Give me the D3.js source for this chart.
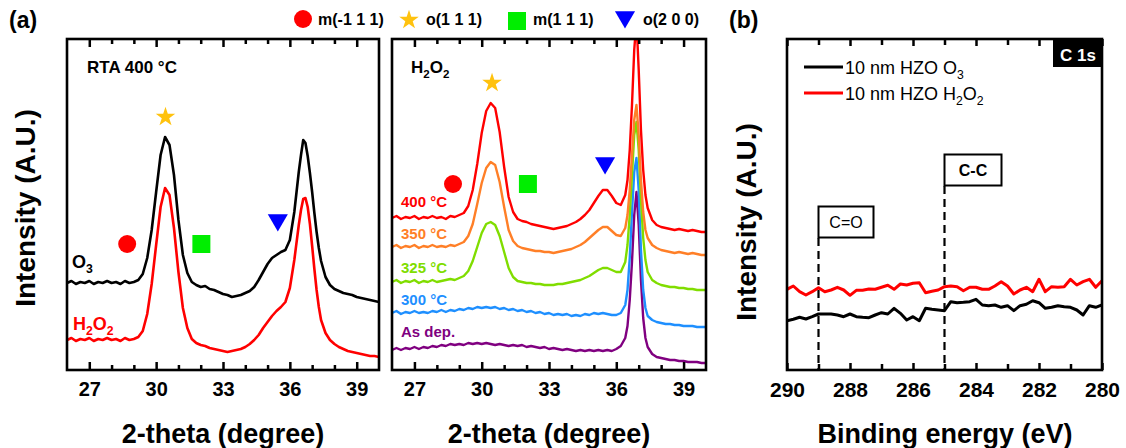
<html>
<head>
<meta charset="UTF-8">
<script src="https://d3js.org/d3.v7.min.js"></script>
<title>XRD and XPS of HZO films</title>
<style>
  body { margin: 0; background: #fff; }
  text { font-family: "Liberation Sans", Arial, sans-serif; }
</style>
</head>
<body>
<svg id="chart" width="1126" height="448"></svg>
<script>
// ---- data ----
// 2-theta grid (degree), denser around the sharp substrate peak
const theta = [26.0, 26.2, 26.4, 26.6, 26.8, 27.0, 27.2, 27.4, 27.6, 27.8,
  28.0, 28.2, 28.4, 28.6, 28.8, 29.0, 29.2, 29.4, 29.6, 29.8,
  30.0, 30.2, 30.4, 30.6, 30.8, 31.0, 31.2, 31.4, 31.6, 31.8,
  32.0, 32.2, 32.4, 32.6, 32.8, 33.0, 33.2, 33.4, 33.6, 33.8,
  34.0, 34.2, 34.4, 34.6, 34.8, 35.0, 35.2, 35.4, 35.6, 35.8,
  36.0, 36.2, 36.4,
  36.5, 36.6, 36.7, 36.8, 36.9, 37.0, 37.1, 37.2, 37.3, 37.4,
  37.6, 37.8, 38.0, 38.2, 38.4, 38.6, 38.8, 39.0, 39.2, 39.4, 39.6, 39.8, 40.0];

// (a) left: RTA 400 °C, O3 vs H2O2 (offset intensity, a.u.)
const rtaO3 = [87, 89, 86, 88, 87, 89, 86, 88, 87, 89,
  87, 88, 86, 89, 87, 88, 90, 96, 112, 140,
  178, 215, 233, 225, 195, 150, 115, 97, 88, 85,
  83, 84, 81, 80, 78, 76, 75, 73, 74, 75,
  77, 79, 83, 90, 98, 106, 112, 115, 118, 120,
  130, 158, 198,
  215, 230, 227, 214, 197, 178, 157, 138, 122, 109,
  93, 85, 81, 79, 77, 76, 75, 73, 72, 71, 70, 69, 68];
const rtaH2O2 = [30, 32, 29, 31, 30, 32, 29, 31, 30, 32,
  30, 31, 29, 32, 30, 31, 33, 39, 56, 86,
  125, 163, 182, 175, 142, 98, 62, 42, 31, 27,
  25, 24, 22, 21, 20, 19, 18, 19, 20, 21,
  23, 26, 30, 35, 42, 48, 54, 59, 63, 68,
  82, 110, 145,
  160, 171, 172, 163, 146, 124, 101, 80, 63, 50,
  37, 30, 26, 23, 21, 19, 18, 17, 16, 15, 14, 14, 13];

// (a) right: H2O2 films at several anneal temperatures
const h400 = [152, 154, 151, 153, 152, 154, 151, 153, 152, 154,
  152, 153, 151, 154, 153, 155, 157, 164, 180, 206,
  237, 259, 267, 262, 238, 203, 173, 158, 151, 149,
  148, 146, 145, 144, 143, 142, 141, 142, 143, 144,
  146, 148, 151, 155, 160, 167, 174, 180, 180, 174,
  167, 165, 175,
  190, 220, 265, 320, 350, 300, 240, 200, 175, 162,
  150, 145, 143, 142, 141, 140, 141, 140, 139, 140, 139, 138, 138];
const h350 = [123, 125, 122, 124, 123, 125, 122, 124, 123, 125,
  123, 124, 123, 125, 124, 126, 128, 134, 146, 166,
  187, 202, 208, 205, 188, 163, 140, 129, 124, 122,
  121, 120, 119, 119, 118, 118, 117, 118, 119, 120,
  121, 123, 125, 128, 132, 136, 140, 143, 143, 139,
  135, 134, 142,
  155, 180, 215, 250, 265, 235, 190, 158, 140, 132,
  125, 122, 120, 119, 118, 117, 118, 117, 116, 117, 116, 115, 115];
const h325 = [88, 90, 87, 89, 88, 90, 87, 89, 88, 90,
  88, 89, 90, 91, 90, 92, 94, 99, 109, 123,
  137, 146, 148, 145, 134, 118, 102, 93, 89, 88,
  87, 87, 86, 86, 85, 85, 85, 86, 86, 87,
  88, 89, 90, 92, 94, 97, 100, 102, 102, 100,
  98, 98, 108,
  125, 155, 195, 235, 248, 220, 170, 132, 110, 98,
  90, 87, 85, 84, 83, 83, 82, 82, 81, 81, 80, 80, 80];
const h300 = [57, 59, 56, 58, 57, 59, 57, 58, 57, 59,
  58, 60, 58, 60, 59, 61, 60, 62, 61, 63,
  62, 63, 62, 63, 61, 62, 60, 61, 59, 60,
  58, 59, 57, 58, 56, 57, 55, 56, 55, 56,
  54, 55, 54, 56, 55, 57, 56, 57, 56, 55,
  55, 57, 65,
  80, 112, 158, 198, 212, 180, 120, 80, 62, 54,
  50, 48, 47, 46, 46, 45, 45, 44, 44, 44, 43, 43, 43];
const asDep = [20, 22, 20, 22, 21, 23, 21, 23, 22, 24,
  23, 25, 24, 26, 25, 26, 25, 27, 26, 27,
  26, 27, 26, 25, 26, 25, 24, 25, 24, 25,
  23, 24, 23, 22, 23, 21, 22, 21, 20, 21,
  20, 19, 20, 19, 20, 19, 20, 19, 20, 19,
  21, 24, 32,
  44, 70, 108, 155, 178, 145, 90, 52, 32, 23,
  16, 13, 12, 11, 10, 10, 9, 9, 8, 8, 8, 7, 7];
const tempLabels = ['400 °C', '350 °C', '325 °C', '300 °C', 'As dep.'];
const tempColors = ['#ff0000', '#ff7f27', '#80dd00', '#1e8fff', '#800080'];
const tempLabelLevel = [163, 131, 97, 65, 33];

// phase markers
const phaseNames = ['m(-1 1 1)', 'o(1 1 1)', 'm(1 1 1)', 'o(2 0 0)'];
const phaseColors = ['#ff0000', '#ffc20e', '#00ee00', '#0000ff'];
const markA1Theta = [28.7, 30.42, 32.03, 35.46];
const markA1Level = [126, 253, 126, 150];
const markA2Theta = [28.72, 30.46, 32.06, 35.5];
const markA2Level = [186, 287, 186, 207];

// (b) XPS C 1s
const energy = [290.0, 289.8, 289.6, 289.4, 289.2, 289.0, 288.8, 288.6, 288.4, 288.2,
  288.0, 287.8, 287.6, 287.4, 287.2, 287.0, 286.8, 286.6, 286.4, 286.2,
  286.0, 285.8, 285.6, 285.4, 285.2, 285.0, 284.8, 284.6, 284.4, 284.2,
  284.0, 283.8, 283.6, 283.4, 283.2, 283.0, 282.8, 282.6, 282.4, 282.2,
  282.0, 281.8, 281.6, 281.4, 281.2, 281.0, 280.8, 280.6, 280.4, 280.2, 280.0];
const xpsH2O2 = [80.7, 84, 78.3, 75, 78.3, 82.3, 78.3, 80, 82.7, 80,
  74.7, 79.7, 79.7, 81, 80.7, 82.7, 84.7, 80.7, 86, 85,
  86.7, 87.3, 77.3, 78.7, 80, 83.3, 84, 83.3, 79.3, 82.7,
  82.7, 80.7, 80.7, 84, 88.3, 84, 76, 80, 82.7, 78.3,
  90.7, 78.3, 83.3, 82.7, 83.3, 90.7, 85, 88.3, 90.7, 82.7, 89.3];
const xpsO3 = [49.3, 50.7, 52.7, 51, 53.3, 56, 56, 56, 55, 53.3,
  56, 53.3, 52.7, 52.3, 55, 57.3, 56, 61.7, 56.7, 50,
  53.3, 49.3, 61.7, 60.7, 60, 59.3, 68.3, 67.3, 67.7, 68.3,
  70.7, 65, 64.3, 65, 62.7, 64.3, 59.3, 64.3, 65.7, 69.3,
  67.3, 61.7, 62.7, 64.3, 63.3, 62.7, 60, 55, 64.3, 62.7, 65];
const bondNames = ['C=O', 'C-C'];
const bondEnergy = [289, 285];
const bondLevel = [148, 200];

const thetaTicks = [27, 30, 33, 36, 39];
const thetaMinor = [28, 29, 31, 32, 34, 35, 37, 38];
const energyTicks = [290, 288, 286, 284, 282, 280];
const energyMinor = [289, 287, 285, 283, 281];

// ---- drawing ----
const svg = d3.select('#chart');
const yTop = 39, yBot = 370;
const y = d3.scaleLinear().domain([0, 331]).range([yBot, yTop]);

const xA1 = d3.scaleLinear().domain([26, 40]).range([67, 379]);
const xA2 = d3.scaleLinear().domain([26, 40]).range([392, 706]);
const xB = d3.scaleLinear().domain([290, 280]).range([787, 1102]);

// text with subscripts: parts = [[str, isSub], ...]
function richText(sel, x, yy, parts, size, color, weight) {
  const t = sel.append('text').attr('x', x).attr('y', yy)
    .attr('font-size', size).attr('font-weight', weight || 'bold')
    .attr('fill', color || '#000');
  let down = false;
  parts.forEach(function (p) {
    const ts = t.append('tspan').text(p[0]);
    if (p[1] && !down) { ts.attr('dy', size * 0.3).attr('font-size', size * 0.68); down = true; }
    else if (p[1]) { ts.attr('font-size', size * 0.68); }
    else if (down) { ts.attr('dy', -size * 0.3); down = false; }
  });
  return t;
}

function clipFor(id, xs) {
  svg.append('clipPath').attr('id', id).append('rect')
    .attr('x', xs.range()[0]).attr('y', yTop)
    .attr('width', xs.range()[1] - xs.range()[0]).attr('height', yBot - yTop);
}

function frame(xs, major, minor, fs, pad, majLen, minLen) {
  const g = svg.append('g');
  const b = g.append('g').attr('transform', 'translate(0,' + yBot + ')')
    .call(d3.axisBottom(xs).tickValues(major).tickSizeInner(-majLen).tickSizeOuter(0).tickPadding(pad));
  b.append('g').call(d3.axisBottom(xs).tickValues(minor).tickSize(-minLen).tickFormat(''));
  const t = g.append('g').attr('transform', 'translate(0,' + yTop + ')')
    .call(d3.axisTop(xs).tickValues(major).tickSize(-majLen).tickFormat(''));
  t.append('g').call(d3.axisTop(xs).tickValues(minor).tickSize(-minLen).tickFormat(''));
  g.selectAll('.domain').remove();
  g.selectAll('.tick line').attr('stroke', '#000').attr('stroke-width', 2.5);
  g.selectAll('.tick text').attr('font-size', fs).attr('font-weight', 'bold')
    .attr('fill', '#000').style('font-family', '"Liberation Sans", Arial, sans-serif');
  g.append('rect').attr('x', xs.range()[0]).attr('y', yTop)
    .attr('width', xs.range()[1] - xs.range()[0]).attr('height', yBot - yTop)
    .attr('fill', 'none').attr('stroke', '#000').attr('stroke-width', 2.6);
}

function trace(xs, clipId, xv, yv, color, width) {
  const line = d3.line().x(function (d) { return xs(d[0]); }).y(function (d) { return y(d[1]); });
  svg.append('path').datum(xv.map(function (v, i) { return [v, yv[i]]; }))
    .attr('clip-path', 'url(#' + clipId + ')')
    .attr('d', line).attr('fill', 'none').attr('stroke', color)
    .attr('stroke-width', width).attr('stroke-linejoin', 'round');
}

const shapes = [d3.symbolCircle, d3.symbolStar, d3.symbolSquare, d3.symbolTriangle];
const shapeSize = [254, 118, 324, 175];
function marker(cx, cy, k) {
  svg.append('path')
    .attr('d', d3.symbol().type(shapes[k]).size(shapeSize[k])())
    .attr('transform', 'translate(' + cx + ',' + cy + ')' + (k === 3 ? ' rotate(180)' : ''))
    .attr('fill', phaseColors[k]);
}

clipFor('clipA1', xA1);
clipFor('clipA2', xA2);
clipFor('clipB', xB);

// panel (a) left
trace(xA1, 'clipA1', theta, rtaO3, '#000', 2.6);
trace(xA1, 'clipA1', theta, rtaH2O2, '#ff0000', 2.6);
markA1Theta.forEach(function (t, i) { marker(xA1(t), y(markA1Level[i]), i); });
frame(xA1, thetaTicks, thetaMinor, 20, 12, 8, 5);
richText(svg, 87, 73, [['RTA 400 °C', false]], 17);
richText(svg, 72, 268, [['O', false], ['3', true]], 18, '#000');
richText(svg, 73, 330, [['H', false], ['2', true], ['O', false], ['2', true]], 18, '#ff0000');

// panel (a) right
const series = [h400, h350, h325, h300, asDep];
for (let i = series.length - 1; i >= 0; i--) {
  trace(xA2, 'clipA2', theta, series[i], tempColors[i], 2.4);
}
markA2Theta.forEach(function (t, i) { marker(xA2(t), y(markA2Level[i]), i); });
frame(xA2, thetaTicks, thetaMinor, 20, 12, 8, 5);
richText(svg, 411, 73, [['H', false], ['2', true], ['O', false], ['2', true]], 17);
tempLabels.forEach(function (lab, i) {
  richText(svg, 401, y(tempLabelLevel[i]), [[lab, false]], 15, tempColors[i]);
});

// top legend of phases
const legX = [303, 409, 517, 625];
const legY = [19, 20, 21, 17];
const legTextX = [318, 426, 533, 643];
phaseNames.forEach(function (n, i) {
  marker(legX[i], legY[i], i);
  richText(svg, legTextX[i], 25, [[n, false]], 16);
});

// panel (b)
bondNames.forEach(function (n, i) {
  const bx = xB(bondEnergy[i]);
  const cy = y(bondLevel[i]);
  svg.append('line').attr('x1', bx).attr('x2', bx).attr('y1', cy + 16).attr('y2', yBot)
    .attr('stroke', '#000').attr('stroke-width', 2.2).attr('stroke-dasharray', '8,5');
  const w = i === 0 ? 55 : 57;
  svg.append('rect').attr('x', bx).attr('y', cy - 15.5).attr('width', w).attr('height', 31)
    .attr('fill', '#fff').attr('stroke', '#000').attr('stroke-width', 2);
  svg.append('text').attr('x', bx + w / 2).attr('y', cy + 6).attr('text-anchor', 'middle')
    .attr('font-size', 16).attr('font-weight', i === 0 ? 'normal' : 'bold').text(n);
});
trace(xB, 'clipB', energy, xpsO3, '#000', 3);
trace(xB, 'clipB', energy, xpsH2O2, '#ff0000', 3);
frame(xB, energyTicks, energyMinor, 21, 12, 7, 6);

// C 1s tag
svg.append('rect').attr('x', 1053).attr('y', yTop).attr('width', 49).attr('height', 28).attr('fill', '#000');
svg.append('text').attr('x', 1078).attr('y', 61).attr('text-anchor', 'middle')
  .attr('font-size', 17).attr('font-weight', 'bold').attr('fill', '#fff').text('C 1s');

// legend (b)
const legB = [['O', '3', '#000'], ['H', '2', '#ff0000']];
legB.forEach(function (d, i) {
  const ly = 67 + i * 26;
  svg.append('line').attr('x1', 804).attr('x2', 843).attr('y1', ly).attr('y2', ly)
    .attr('stroke', d[2]).attr('stroke-width', 3);
  const parts = i === 0
    ? [['10 nm HZO O', false], ['3', true]]
    : [['10 nm HZO H', false], ['2', true], ['O', false], ['2', true]];
  richText(svg, 845, ly + 7, parts, 18, '#000', 'normal');
});

// axis titles
[[223, '2-theta (degree)'], [549, '2-theta (degree)'], [945, 'Binding energy (eV)']].forEach(function (d) {
  svg.append('text').attr('x', d[0]).attr('y', 443).attr('text-anchor', 'middle')
    .attr('font-size', 27).attr('font-weight', 'bold').text(d[1]);
});
[[35, 208], [756, 222]].forEach(function (d) {
  svg.append('text').attr('transform', 'translate(' + d[0] + ',' + d[1] + ') rotate(-90)')
    .attr('text-anchor', 'middle').attr('font-size', 28).attr('font-weight', 'bold')
    .text('Intensity (A.U.)');
});
richText(svg, 9, 28, [['(a)', false]], 23);
richText(svg, 729, 28, [['(b)', false]], 23);
</script>
</body>
</html>
